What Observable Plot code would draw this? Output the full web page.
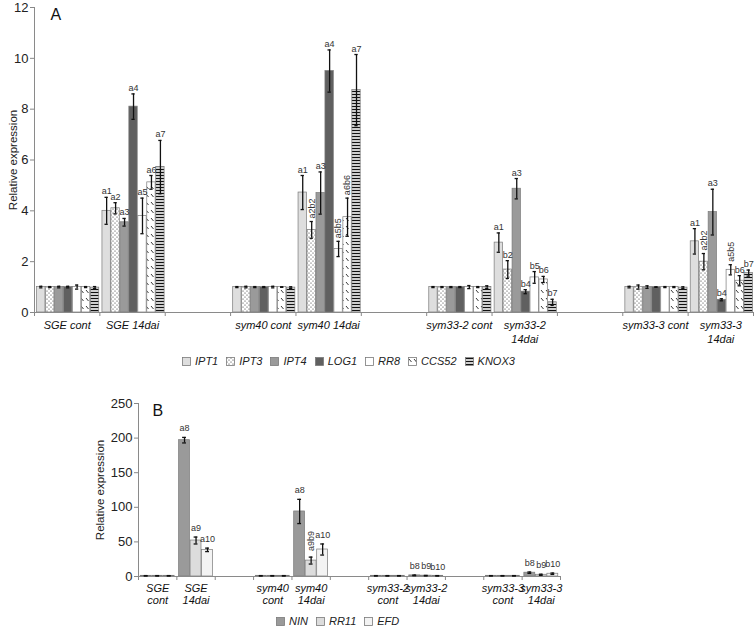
<!DOCTYPE html>
<html>
<head>
<meta charset="utf-8">
<script src="https://cdn.jsdelivr.net/npm/d3@7"></script>
<script src="https://cdn.jsdelivr.net/npm/@observablehq/plot@0.6"></script>
<style>
  html, body { margin: 0; padding: 0; background: #fff; }
  #wrap { position: relative; width: 756px; height: 629px; overflow: hidden; font-family: 'Liberation Sans', Arial, Helvetica, sans-serif; }
  .legend { position: absolute; display: flex; align-items: center; font-style: italic; font-size: 11px; color: #222; white-space: nowrap; }
  .legend .item { display: flex; align-items: center; margin-right: 8px; }
  .legend svg { margin-right: 4px; }
</style>
</head>
<body>
<svg width="0" height="0" style="position:absolute">
  <defs>
    <pattern id="pDots" width="4" height="4" patternUnits="userSpaceOnUse">
      <rect width="4" height="4" fill="#fff"/>
      <circle cx="1" cy="1" r="0.55" fill="#222"/>
      <circle cx="3" cy="3" r="0.55" fill="#222"/>
    </pattern>
    <pattern id="pDiag" width="5" height="8" patternUnits="userSpaceOnUse">
      <rect width="5" height="8" fill="#fff"/>
      <line x1="1" y1="2" x2="3.5" y2="5" stroke="#222" stroke-width="0.9"/>
    </pattern>
    <pattern id="pHoriz" width="4" height="3" patternUnits="userSpaceOnUse">
      <rect width="4" height="3" fill="#fff"/>
      <rect y="0.8" width="4" height="1.4" fill="#111"/>
    </pattern>
  </defs>
</svg>
<div id="wrap"></div>
<script>
// ---------------- Panel A data ----------------
const genesA = ["IPT1", "IPT3", "IPT4", "LOG1", "RR8", "CCS52", "KNOX3"];
const categoriesA = ["SGE cont", "SGE 14dai", "", "sym40 cont", "sym40 14dai", "", "sym33-2 cont", "sym33-2\n14dai", "", "sym33-3 cont", "sym33-3\n14dai"];
const yTicksA = [0, 2, 4, 6, 8, 10, 12];

const sgeContA = [1.0, 1.0, 1.0, 1.0, 1.0, 1.0, 0.98];
const sgeContErrA = [0.03, 0.02, 0.03, 0.03, 0.08, 0.02, 0.04];
const sge14A = [4.0, 4.1, 3.55, 8.1, 3.8, 5.12, 5.72];
const sge14ErrA = [0.53, 0.22, 0.15, 0.5, 0.7, 0.27, 1.05];
const sge14LabelsA = ["a1", "a2", "a3", "a4", "a5", "a6", "a7"];

const sym40ContA = [1.0, 1.0, 1.0, 1.0, 1.0, 1.0, 0.98];
const sym40ContErrA = [0.02, 0.03, 0.02, 0.02, 0.03, 0.01, 0.03];
const sym40_14A = [4.72, 3.25, 4.7, 9.5, 2.5, 3.75, 8.75];
const sym40_14ErrA = [0.67, 0.33, 0.83, 0.83, 0.3, 0.75, 1.4];
const sym40_14LabelsA = ["a1", "a2b2", "a3", "a4", "a5b5", "a6b6", "a7"];

const sym332ContA = [1.0, 1.0, 1.0, 1.0, 1.0, 1.0, 1.0];
const sym332ContErrA = [0.02, 0.02, 0.02, 0.02, 0.06, 0.02, 0.05];
const sym332_14A = [2.75, 1.69, 4.87, 0.82, 1.38, 1.3, 0.4];
const sym332_14ErrA = [0.38, 0.35, 0.4, 0.08, 0.23, 0.12, 0.12];
const sym332_14LabelsA = ["a1", "b2", "a3", "b4", "b5", "b6", "b7"];

const sym333ContA = [1.0, 1.0, 1.0, 1.0, 1.0, 1.0, 0.98];
const sym333ContErrA = [0.03, 0.08, 0.05, 0.01, 0.02, 0.02, 0.03];
const sym333_14A = [2.8, 2.0, 3.95, 0.5, 1.68, 1.25, 1.55];
const sym333_14ErrA = [0.5, 0.32, 0.9, 0.04, 0.2, 0.2, 0.12];
const sym333_14LabelsA = ["a1", "a2b2", "a3", "b4", "a5b5", "b6", "b7"];

// ---------------- Panel B data ----------------
const genesB = ["NIN", "RR11", "EFD"];
const categoriesB = ["SGE\ncont", "SGE\n14dai", "", "sym40\ncont", "sym40\n14dai", "", "sym33-2\ncont", "sym33-2\n14dai", "", "sym33-3\ncont", "sym33-3\n14dai"];
const yTicksB = [0, 50, 100, 150, 200, 250];

const sgeContB = [1.0, 1.0, 1.0];
const sgeContErrB = [0.3, 0.3, 0.3];
const sge14B = [197, 52, 38.5];
const sge14ErrB = [4, 5, 2.5];
const sge14LabelsB = ["a8", "a9", "a10"];

const sym40ContB = [1.0, 1.0, 1.0];
const sym40ContErrB = [0.3, 0.3, 0.3];
const sym40_14B = [94, 23, 39];
const sym40_14ErrB = [17.5, 5, 8];
const sym40_14LabelsB = ["a8", "a9b9", "a10"];

const sym332ContB = [1.0, 1.0, 1.0];
const sym332ContErrB = [0.3, 0.3, 0.3];
const sym332_14B = [1.6, 1.2, 1.0];
const sym332_14ErrB = [0.5, 0.4, 0.3];
const sym332_14LabelsB = ["b8", "b9", "b10"];

const sym333ContB = [1.0, 1.0, 1.0];
const sym333ContErrB = [0.3, 0.3, 0.3];
const sym333_14B = [5.5, 2.5, 4.0];
const sym333_14ErrB = [1.0, 0.8, 1.0];
const sym333_14LabelsB = ["b8", "b9", "b10"];

const yTitle = "Relative expression";

// ---------------- styling ----------------
const FONT = "'Liberation Sans', Arial, Helvetica, sans-serif";
const fillA = {IPT1: "#dedede", IPT3: "url(#pDots)", IPT4: "#9a9a9a", LOG1: "#606060", RR8: "#ffffff", CCS52: "url(#pDiag)", KNOX3: "url(#pHoriz)"};
const fillB = {NIN: "#9a9a9a", RR11: "#dcdcdc", EFD: "#f3f3f3"};

function buildRows(groups, genes, padL, padR) {
  const w = (1 - padL - padR) / genes.length;
  const rows = [];
  for (const g of groups) {
    genes.forEach((gene, j) => {
      const x1 = g.cat + padL + j * w;
      const v = g.v[j], e = g.e[j];
      rows.push({gene, x1, x2: x1 + w, xc: x1 + w / 2, v, lo: v - e, hi: v + e,
                 label: g.l ? g.l[j] : null});
    });
  }
  return rows;
}

const rowsA = buildRows([
  {cat: 0, v: sgeContA, e: sgeContErrA},
  {cat: 1, v: sge14A, e: sge14ErrA, l: sge14LabelsA},
  {cat: 3, v: sym40ContA, e: sym40ContErrA},
  {cat: 4, v: sym40_14A, e: sym40_14ErrA, l: sym40_14LabelsA},
  {cat: 6, v: sym332ContA, e: sym332ContErrA},
  {cat: 7, v: sym332_14A, e: sym332_14ErrA, l: sym332_14LabelsA},
  {cat: 9, v: sym333ContA, e: sym333ContErrA},
  {cat: 10, v: sym333_14A, e: sym333_14ErrA, l: sym333_14LabelsA}
], genesA, 0.035, 0.005);

const rowsB = buildRows([
  {cat: 0, v: sgeContB, e: sgeContErrB},
  {cat: 1, v: sge14B, e: sge14ErrB, l: sge14LabelsB},
  {cat: 3, v: sym40ContB, e: sym40ContErrB},
  {cat: 4, v: sym40_14B, e: sym40_14ErrB, l: sym40_14LabelsB},
  {cat: 6, v: sym332ContB, e: sym332ContErrB},
  {cat: 7, v: sym332_14B, e: sym332_14ErrB, l: sym332_14LabelsB},
  {cat: 9, v: sym333ContB, e: sym333ContErrB},
  {cat: 10, v: sym333_14B, e: sym333_14ErrB, l: sym333_14LabelsB}
], genesB, 0.05, 0.05);

const isRotated = s => (s.match(/[a-z]/g) || []).length > 1;

function panel({rows, genes, fills, categories, yTicks, yMax, width, height, margins, cap, labelDy, letter, letterDx, titleDx, catFont, catLineHeight}) {
  const labeled = rows.filter(d => d.label);
  const cats = categories.map((c, i) => ({i, c})).filter(d => d.c);
  const svg = Plot.plot({
    width, height, ...margins,
    style: {fontFamily: FONT, fontSize: "13px", color: "#888", background: "transparent"},
    x: {domain: [0, categories.length], ticks: d3.range(categories.length + 1), tickFormat: () => "", tickSize: 4, label: null},
    y: {domain: [0, yMax], ticks: yTicks, tickSize: 4, tickPadding: 2, label: null},
    marks: [
      ...genes.map(g => Plot.rect(rows.filter(d => d.gene === g), {
        x1: "x1", x2: "x2", y1: () => 0, y2: "v",
        fill: fills[g], stroke: "#7a7a7a", strokeWidth: 0.7, insetLeft: 0.3, insetRight: 0.3
      })),
      Plot.ruleY([0], {stroke: "#8a8a8a", strokeWidth: 1}),
      Plot.ruleX([0], {stroke: "#8a8a8a", strokeWidth: 1}),
      Plot.ruleX(rows, {x: "xc", y1: "lo", y2: "hi", stroke: "#111", strokeWidth: 1.3}),
      Plot.ruleY(rows, {y: "hi", x1: d => d.xc - cap, x2: d => d.xc + cap, stroke: "#111", strokeWidth: 1.3}),
      Plot.ruleY(rows, {y: "lo", x1: d => d.xc - cap, x2: d => d.xc + cap, stroke: "#111", strokeWidth: 1.3}),
      Plot.text(labeled.filter(d => !isRotated(d.label)), {
        x: "xc", y: "hi", text: "label", lineAnchor: "bottom", dy: labelDy,
        fontSize: 9, fill: "#333"
      }),
      Plot.text(labeled.filter(d => isRotated(d.label)), {
        x: "xc", y: "hi", text: "label", rotate: -90, textAnchor: "start", dy: labelDy,
        fontSize: 9, fill: "#333"
      }),
      Plot.text(cats, {
        x: d => d.i + 0.5, y: () => 0, text: "c", lineAnchor: "top", dy: 7,
        fontStyle: "italic", fontSize: catFont, lineHeight: catLineHeight, fill: "#111"
      }),
      Plot.text([yTitle], {
        frameAnchor: "left", text: d => d, rotate: -90, textAnchor: "middle", dx: titleDx,
        fontSize: 11.5, fill: "#222"
      }),
      Plot.text([letter], {
        frameAnchor: "top-left", text: d => d, dx: letterDx, dy: 1,
        fontSize: 16, fill: "#111"
      })
    ]
  });
  svg.querySelectorAll('g[aria-label^="y-axis"] text').forEach(t => t.setAttribute("fill", "#222"));
  return svg;
}

const wrap = document.getElementById("wrap");

const svgA = panel({
  rows: rowsA, genes: genesA, fills: fillA, categories: categoriesA, yTicks: yTicksA, yMax: 12,
  width: 756, height: 355,
  margins: {marginTop: 7, marginBottom: 43, marginLeft: 34, marginRight: 3},
  cap: 0.025, labelDy: -3, letter: "A", letterDx: 16, titleDx: -21,
  catFont: 11, catLineHeight: 1.25
});
svgA.style.position = "absolute"; svgA.style.left = "0px"; svgA.style.top = "0px";
wrap.appendChild(svgA);

const svgB = panel({
  rows: rowsB, genes: genesB, fills: fillB, categories: categoriesB, yTicks: yTicksB, yMax: 250,
  width: 756, height: 221,
  margins: {marginTop: 13, marginBottom: 35, marginLeft: 138, marginRight: 196},
  cap: 0.05, labelDy: -6, letter: "B", letterDx: 14, titleDx: -38,
  catFont: 11, catLineHeight: 1.1
});
svgB.style.position = "absolute"; svgB.style.left = "0px"; svgB.style.top = "390px";
wrap.appendChild(svgB);

function legend(genes, fills, left, top) {
  const div = document.createElement("div");
  div.className = "legend";
  div.style.left = left + "px";
  div.style.top = top + "px";
  for (const g of genes) {
    const item = document.createElement("div");
    item.className = "item";
    const s = d3.create("svg").attr("width", 9).attr("height", 9);
    s.append("rect").attr("x", 0.5).attr("y", 0.5).attr("width", 8).attr("height", 8)
      .attr("fill", fills[g]).attr("stroke", "#7a7a7a").attr("stroke-width", 0.8);
    item.appendChild(s.node());
    const t = document.createElement("span");
    t.textContent = g;
    item.appendChild(t);
    div.appendChild(item);
  }
  wrap.appendChild(div);
}
legend(genesA, fillA, 182, 355);
legend(genesB, fillB, 276, 615);
</script>
</body>
</html>
